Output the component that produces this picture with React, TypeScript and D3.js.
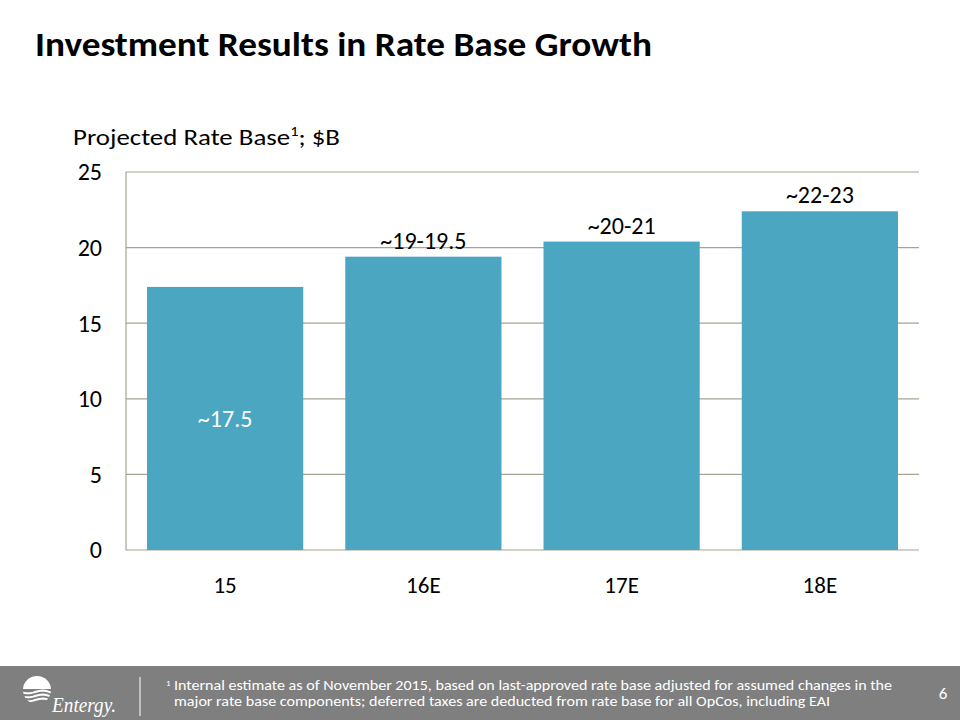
import * as d3 from 'd3';

// Projected rate base by year, $B
const categories = ['15', '16E', '17E', '18E'];
const values = [17.4, 19.4, 20.4, 22.4];
const valueLabels = ['~17.5', '~19-19.5', '~20-21', '~22-23'];
const yTicks = [0, 5, 10, 15, 20, 25];

const W = 960;
const H = 720;
const FONT = 'Carlito, Calibri, Lato, "Open Sans", sans-serif';
const BAR = '#4BA6C2';
const GRID = '#A6A391';

export default function App() {
  const x = d3.scaleBand<string>()
    .domain(categories)
    .range([126, 919])
    .paddingInner(0.212)
    .paddingOuter(0.106);
  const y = d3.scaleLinear().domain([0, 25]).range([550, 172]);

  // little wave path for the logo stripes
  const wave = (yy: number) => {
    const pts: [number, number][] = d3.range(0, 33, 2).map((i) => [21 + i, yy + Math.sin(i / 4.5) * 1.4]);
    return d3.line()(pts) ?? '';
  };

  return (
    <div style={{ position: 'fixed', left: 0, top: 0 }}>
      <svg width={W} height={H} style={{ display: 'block', background: '#fff' }}>
        {/* Title */}
        <text x={35} y={56} fontFamily={FONT} fontSize={34} fontWeight={700} fill="#000"
          textLength={617} lengthAdjust="spacingAndGlyphs">
          Investment Results in Rate Base Growth
        </text>

        {/* Axis caption */}
        <text x={73} y={145} fontFamily={FONT} fontSize={23} fill="#000" textLength={267} lengthAdjust="spacingAndGlyphs">
          Projected Rate Base<tspan fontSize={14} dy={-9}>1</tspan><tspan dy={9}>; $B</tspan>
        </text>

        {/* Grid */}
        {yTicks.map((t) => (
          <line key={t} x1={126} x2={919} y1={y(t)} y2={y(t)} stroke={GRID} strokeWidth={1.2} />
        ))}
        <line x1={126} x2={126} y1={y(25)} y2={y(0)} stroke={GRID} strokeWidth={1.2} />

        {/* Y tick labels */}
        {yTicks.map((t) => (
          <text key={t} x={102} y={y(t)} dy="0.35em" textAnchor="end" fontFamily={FONT} fontSize={24} fill="#000">
            {t}
          </text>
        ))}

        {/* Bars */}
        {categories.map((c, i) => (
          <rect key={c} x={x(c)} y={y(values[i])} width={x.bandwidth()} height={y(0) - y(values[i])} fill={BAR} />
        ))}

        {/* Value labels */}
        {categories.map((c, i) => {
          const cx = (x(c) ?? 0) + x.bandwidth() / 2;
          const inside = i === 0;
          return (
            <text key={c} x={cx} y={inside ? 427 : y(values[i]) - 8} textAnchor="middle" fontFamily={FONT}
              fontSize={24} fill={inside ? '#fff' : '#000'}>
              {valueLabels[i]}
            </text>
          );
        })}

        {/* Category labels */}
        {categories.map((c) => (
          <text key={c} x={(x(c) ?? 0) + x.bandwidth() / 2} y={593} textAnchor="middle" fontFamily={FONT}
            fontSize={23} fill="#000">
            {c}
          </text>
        ))}

        {/* Footer band */}
        <rect x={0} y={666} width={W} height={54} fill="#7F7F7F" />
        <defs>
          <clipPath id="logo-clip">
            <circle cx={37} cy={690} r={14} />
          </clipPath>
        </defs>
        <g clipPath="url(#logo-clip)">
          <rect x={20} y={675} width={36} height={14} fill="#fff" />
          {[692, 696, 700].map((yy) => (
            <path key={yy} d={wave(yy)} fill="none" stroke="#fff" strokeWidth={2} />
          ))}
        </g>
        <text x={52} y={712} fontFamily='"Liberation Serif", "DejaVu Serif", serif' fontStyle="italic"
          fontSize={21} fill="#fff" textLength={64} lengthAdjust="spacingAndGlyphs">
          Entergy.
        </text>
        <line x1={140} x2={140} y1={677} y2={716} stroke="#fff" strokeWidth={1} />

        <text x={166} y={686} fontFamily={FONT} fontSize={9} fill="#fff">1</text>
        <text x={174} y={690} fontFamily={FONT} fontSize={13.5} fill="#fff" textLength={718} lengthAdjust="spacingAndGlyphs">
          Internal estimate as of November 2015, based on last-approved rate base adjusted for assumed changes in the
        </text>
        <text x={174} y={706} fontFamily={FONT} fontSize={13.5} fill="#fff" textLength={656} lengthAdjust="spacingAndGlyphs">
          major rate base components; deferred taxes are deducted from rate base for all OpCos, including EAI
        </text>
        <text x={943} y={699} textAnchor="middle" fontFamily={FONT} fontSize={17} fill="#fff">6</text>
      </svg>
    </div>
  );
}
